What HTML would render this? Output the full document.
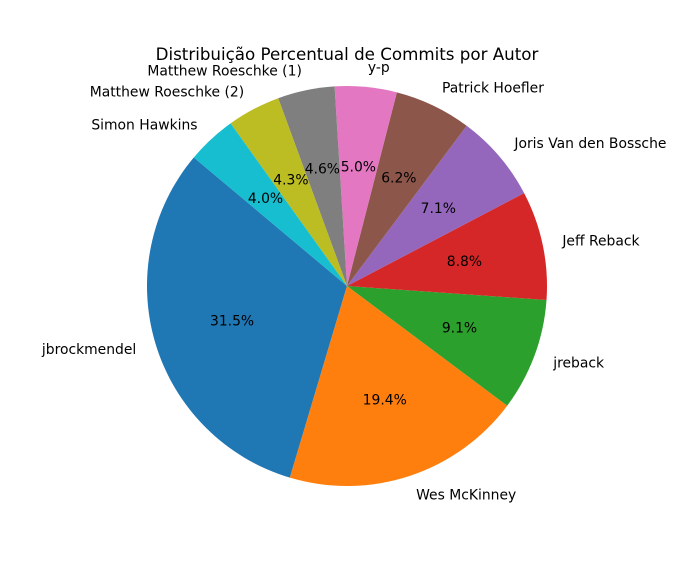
<!DOCTYPE html>
<html><head><meta charset="utf-8">
<style>
body{margin:0;background:#fff;}
svg text{font-family:"DejaVu Sans","Liberation Sans",sans-serif;}
</style></head>
<body>
<svg id="chart" width="678" height="567" viewBox="0 0 678 567">
<text x="347" y="60" text-anchor="middle" font-size="16.7" fill="#000">Distribuição Percentual de Commits por Autor</text>
<g id="slices"></g>
<g id="labels"></g>
</svg>
<script>
const categories = ["jbrockmendel","Wes McKinney","jreback","Jeff Reback","Joris Van den Bossche","Patrick Hoefler","y-p","Matthew Roeschke (1)","Matthew Roeschke (2)","Simon Hawkins"];
const values = [31.5,19.4,9.1,8.8,7.1,6.2,5.0,4.6,4.3,4.0];
const colors = ["#1f77b4","#ff7f0e","#2ca02c","#d62728","#9467bd","#8c564b","#e377c2","#7f7f7f","#bcbd22","#17becf"];
const cx=347, cy=286, R=200, startAngle=140;
const NS="http://www.w3.org/2000/svg";
const total=values.reduce((a,b)=>a+b,0);
const gS=document.getElementById('slices'), gL=document.getElementById('labels');
function pt(r,deg){const a=deg*Math.PI/180;return [cx+r*Math.cos(a), cy-r*Math.sin(a)];}
let ang=startAngle;
values.forEach((v,i)=>{
  const sweep=v/total*360;
  const a1=ang, a2=ang+sweep;
  const p1=pt(R,a1), p2=pt(R,a2);
  const large=sweep>180?1:0;
  const path=document.createElementNS(NS,'path');
  path.setAttribute('d',`M${cx},${cy} L${p1[0]},${p1[1]} A${R},${R} 0 ${large} 0 ${p2[0]},${p2[1]} Z`);
  path.setAttribute('fill',colors[i]);
  
  
  gS.appendChild(path);
  const mid=(a1+a2)/2;
  const lp=pt(R*1.1,mid);
  const t=document.createElementNS(NS,'text');
  t.setAttribute('x',lp[0]); t.setAttribute('y',lp[1]+4.8);
  t.setAttribute('font-size','13.9');
  t.setAttribute('text-anchor', Math.cos(mid*Math.PI/180)>0?'start':'end');
  t.textContent=categories[i];
  
  
  gL.appendChild(t);
  const pp=pt(R*0.6,mid);
  const t2=document.createElementNS(NS,'text');
  t2.setAttribute('x',pp[0]); t2.setAttribute('y',pp[1]+4.8);
  t2.setAttribute('font-size','13.9');
  t2.setAttribute('text-anchor','middle');
  t2.textContent=v.toFixed(1)+'%';
  
  
  gL.appendChild(t2);
  ang=a2;
});
</script>
</body></html>
